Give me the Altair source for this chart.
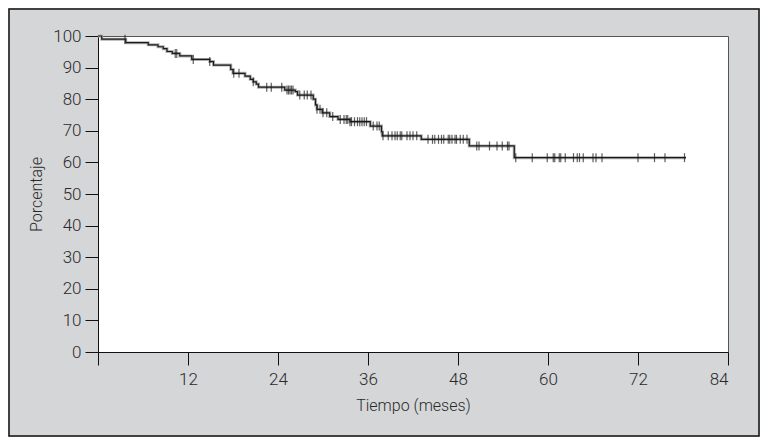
import altair as alt
import pandas as pd

# Kaplan-Meier step curve: time (months) at which the level changes, and level after it (%)
step_time = [0, 0.5, 3.7, 6.7, 8.0, 8.7, 9.2, 9.9, 10.9, 12.5, 14.9, 15.4, 17.7, 18.0,
             19.6, 20.3, 20.7, 21.1, 21.4, 24.9, 26.3, 26.6, 28.7, 29.0, 29.2, 29.9,
             30.9, 32.0, 33.6, 36.3, 37.8, 37.9, 43.1, 49.5, 55.5]
step_surv = [100, 99.0, 97.9, 97.2, 96.6, 96.0, 95.1, 94.5, 93.7, 92.6, 91.9, 90.8, 89.4, 88.2,
             87.3, 86.3, 85.5, 84.8, 83.8, 82.9, 82.4, 81.3, 80.0, 78.2, 76.8, 75.7,
             74.5, 73.6, 72.9, 71.5, 69.7, 68.4, 67.3, 65.2, 61.5]
end_time = 78.4

# censored observations (months)
censor_time = [3.6, 10.3, 10.5, 12.7, 14.9, 18.1, 18.8, 20.7, 22.5, 23.1, 24.5, 25.2, 25.4,
               25.6, 25.8, 26.0, 26.9, 27.5, 27.9, 28.4, 29.2, 29.6, 30.0, 30.5, 31.3, 32.3,
               32.8, 33.1, 33.3, 33.6, 33.8, 34.2, 34.6, 34.9, 35.2, 35.5, 35.8, 36.7, 37.2,
               37.5, 38.0, 38.7, 39.2, 39.6, 39.9, 40.3, 40.5, 41.2, 41.6, 42.0, 42.5, 44.0,
               44.6, 44.9, 45.4, 45.8, 46.1, 46.7, 46.9, 47.2, 47.6, 47.8, 48.3, 48.7, 49.2,
               50.5, 50.8, 52.2, 53.2, 53.9, 54.6, 54.8, 55.7, 57.9, 59.9, 60.7, 60.9, 61.5,
               61.7, 62.3, 63.4, 63.9, 64.2, 64.7, 66.0, 66.4, 67.2, 72.0, 74.2, 75.6, 78.2]

x_ticks = [0, 12, 24, 36, 48, 60, 72, 84]
y_ticks = [0, 10, 20, 30, 40, 50, 60, 70, 80, 90, 100]


def level_at(t):
    s = step_surv[0]
    for tt, ss in zip(step_time, step_surv):
        if tt <= t:
            s = ss
    return s


curve = pd.DataFrame({"t": step_time + [end_time], "s": step_surv + [step_surv[-1]]})
cens = pd.DataFrame({"t": censor_time, "s": [level_at(t) for t in censor_time]})

FONT = "Roboto"

x_enc = alt.X("t:Q", scale=alt.Scale(domain=[0, 84], nice=False),
              axis=alt.Axis(values=x_ticks, title="Tiempo (meses)",
                            labelExpr="datum.value == 0 ? '' : datum.label",
                            labelOverlap=False, titlePadding=10, labelPadding=6))
y_enc = alt.Y("s:Q", scale=alt.Scale(domain=[0, 100], nice=False),
              axis=alt.Axis(values=y_ticks, tickCount=11, title="Porcentaje",
                            labelOverlap=False, labelFlush=False,
                            titlePadding=8, labelPadding=4))

shadow = alt.Chart(curve).mark_line(interpolate="step-after", color="#b0b0b0",
                                    strokeWidth=3).encode(x=x_enc, y=y_enc)
line = alt.Chart(curve).mark_line(interpolate="step-after", color="#1a1a1a",
                                  strokeWidth=1.2).encode(x=x_enc, y=y_enc)
ticks = alt.Chart(cens).mark_tick(orient="vertical", size=9, thickness=1.2,
                                  color="#1a1a1a").encode(x=x_enc, y=y_enc)
frame = alt.Chart(pd.DataFrame({"a": [0]})).mark_rect(
    filled=False, stroke="#111", strokeWidth=1.5
).encode(x=alt.value(-89), x2=alt.value(661), y=alt.value(-27), y2=alt.value(400))

chart = alt.layer(shadow, line, ticks, frame).properties(
    width=630, height=316,
    background="#d5d6d8",
    autosize=alt.AutoSizeParams(type="none"),
    padding={"left": 90, "top": 28, "right": 32, "bottom": 85},
).configure_view(
    fill="white", stroke="#555", strokeWidth=1
).configure_axis(
    domainColor="#111", tickColor="#111", tickSize=13, grid=False,
    labelFont=FONT, labelFontSize=17, labelColor="#2a2a2a", labelFontWeight=300,
    titleFont=FONT, titleFontSize=16, titleFontWeight=300, titleColor="#2a2a2a",
)

chart.save("out.html", embed_options={"renderer": "svg", "actions": False})
